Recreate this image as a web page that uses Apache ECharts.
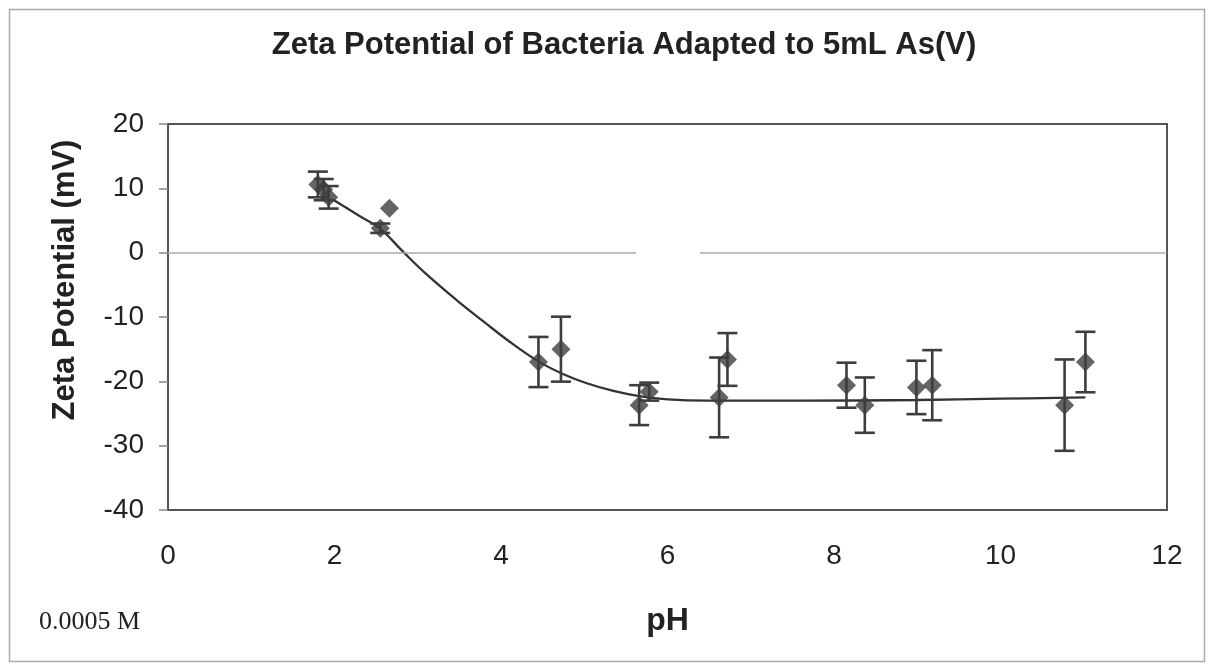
<!DOCTYPE html>
<html>
<head>
<meta charset="utf-8">
<script src="https://cdn.jsdelivr.net/npm/echarts@6/dist/echarts.min.js"></script>
<style>
html,body{margin:0;padding:0;background:#fff;}
#chart{width:1212px;height:669px;}
</style>
</head>
<body>
<div id="chart"></div>
<script>
// Measured points
const phValues   = [1.80, 1.87, 1.93, 2.55, 2.66, 4.45, 4.72, 5.66, 5.78, 6.62, 6.72, 8.15, 8.37, 8.99, 9.18, 10.77, 11.02];
const zetaValues = [10.6, 9.8, 8.6, 3.8, 6.9, -17.0, -15.0, -23.7, -21.6, -22.5, -16.6, -20.6, -23.7, -20.95, -20.6, -23.7, -17.0];
const errValues  = [2.0, 1.65, 1.75, 0.73, 0, 3.9, 5.05, 3.1, 1.4, 6.2, 4.1, 3.5, 4.3, 4.15, 5.45, 7.1, 4.7];

// Fitted trend curve
const trendPh   = [1.99, 2.3, 2.55, 2.82, 3.1, 3.47, 3.8, 4.1, 4.45, 4.75, 5.03, 5.35, 5.66, 6.0, 6.5, 7.6, 9.0, 10.0, 11.02];
const trendZeta = [8.2, 5.7, 3.7, 0.2, -3.3, -7.4, -10.8, -13.8, -16.9, -18.9, -20.3, -21.5, -22.3, -22.8, -23.0, -23.0, -22.9, -22.7, -22.5];

// Zero reference line (drawn with a gap, as in the picture)
const zeroSegments = [[0, 5.62], [6.39, 12]];

// Axis ticks
const xTicks = [0, 2, 4, 6, 8, 10, 12];
const yTicks = [-40, -30, -20, -10, 0, 10, 20];

const titleText = 'Zeta Potential of Bacteria Adapted to 5mL As(V)';
const yName = 'Zeta Potential (mV)';
const xName = 'pH';
const noteText = '0.0005 M';

const markColor = '#3d3d3d';

const pointData = phValues.map((p, i) => [p, zetaValues[i]]);
const errData = phValues.map((p, i) => [p, zetaValues[i] - errValues[i], zetaValues[i] + errValues[i], errValues[i]]).filter(d => d[3] > 0);
const trendData = trendPh.map((p, i) => [p, trendZeta[i]]);

const chart = echarts.init(document.getElementById('chart'));
chart.setOption({
  backgroundColor: '#fff',
  animation: false,
  grid: {left: 168, right: 45, top: 124, bottom: 159, show: true, borderColor: '#555', borderWidth: 2, backgroundColor: 'transparent'},
  xAxis: {
    type: 'value', min: xTicks[0], max: xTicks[xTicks.length - 1], interval: 2,
    name: xName, nameLocation: 'middle', nameGap: 95,
    nameTextStyle: {fontFamily: 'Liberation Sans', fontWeight: 'bold', fontSize: 32, color: '#222'},
    axisLine: {show: false}, axisTick: {show: false}, splitLine: {show: false},
    axisLabel: {margin: 32, fontFamily: 'Liberation Sans', fontSize: 28, color: '#222'}
  },
  yAxis: {
    type: 'value', min: yTicks[0], max: yTicks[yTicks.length - 1], interval: 10,
    axisLine: {show: false},
    axisTick: {show: true, inside: false, length: 9, lineStyle: {color: '#888', width: 1.5}},
    splitLine: {show: false},
    axisLabel: {margin: 24, fontFamily: 'Liberation Sans', fontSize: 28, color: '#222'}
  },
  graphic: [
    {type: 'rect', shape: {x: 9.5, y: 9.5, width: 1195, height: 652}, style: {fill: 'none', stroke: '#aaa', lineWidth: 1.5}, z: -1},
    {type: 'text', x: 624, y: 45, style: {text: titleText, fontFamily: 'Liberation Sans', fontWeight: 'bold', fontSize: 31, fill: '#222', textAlign: 'center', textVerticalAlign: 'middle'}},
    {type: 'text', x: 65, y: 280, rotation: Math.PI / 2, style: {text: yName, fontFamily: 'Liberation Sans', fontWeight: 'bold', fontSize: 31, fill: '#222', textAlign: 'center', textVerticalAlign: 'middle'}},
    {type: 'text', x: 39, y: 622, style: {text: noteText, fontFamily: 'Liberation Serif', fontSize: 26, fill: '#222', textAlign: 'left', textVerticalAlign: 'middle'}}
  ],
  series: [
    {
      type: 'line', data: [], silent: true,
      markLine: {
        silent: true, symbol: 'none', label: {show: false},
        lineStyle: {color: '#aaa', width: 1.5, type: 'solid'},
        data: zeroSegments.map(s => [{coord: [s[0], 0]}, {coord: [s[1], 0]}])
      }
    },
    {
      type: 'line', data: trendData, smooth: 0.4, showSymbol: false, symbol: 'none',
      lineStyle: {color: '#333', width: 2.3}, z: 2
    },
    {
      type: 'custom', data: errData, z: 3,
      renderItem: function (params, api) {
        const x = api.value(0), lo = api.value(1), hi = api.value(2);
        const top = api.coord([x, hi]), bot = api.coord([x, lo]);
        const hw = 10;
        const st = {stroke: markColor, lineWidth: 2.6};
        return {type: 'group', children: [
          {type: 'line', shape: {x1: top[0], y1: top[1], x2: bot[0], y2: bot[1]}, style: st},
          {type: 'line', shape: {x1: top[0] - hw, y1: top[1], x2: top[0] + hw, y2: top[1]}, style: st},
          {type: 'line', shape: {x1: bot[0] - hw, y1: bot[1], x2: bot[0] + hw, y2: bot[1]}, style: st}
        ]};
      },
      encode: {x: 0, y: [1, 2]}
    },
    {
      type: 'scatter', data: pointData, symbol: 'diamond', symbolSize: 19,
      itemStyle: {color: markColor}, z: 4
    }
  ]
});
</script>
</body>
</html>
